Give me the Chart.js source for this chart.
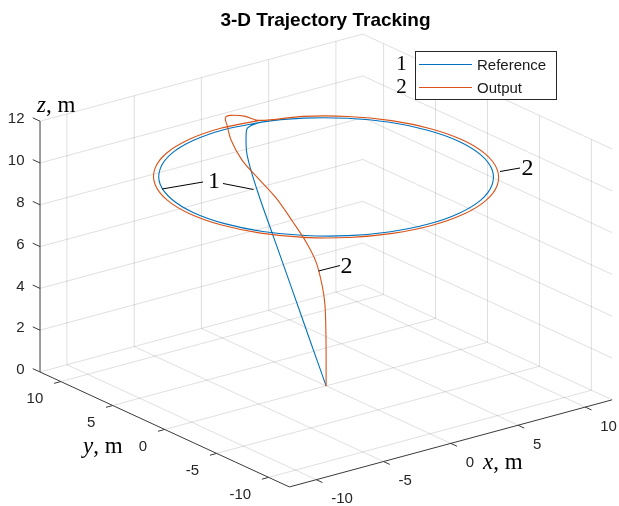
<!DOCTYPE html>
<html><head><meta charset="utf-8">
<script src="https://cdn.jsdelivr.net/npm/chart.js@4.4.1/dist/chart.umd.min.js"></script>
<style>html,body{margin:0;padding:0;background:#fff}#wrap{width:619px;height:506px}</style>
</head><body><div id="wrap"><canvas id="c" width="619" height="506"></canvas></div>
<script>
// ---------------- DATA (3-D points) ----------------
const seriesNames = ['Reference', 'Output'];
const refX = [0, 0, 0, 0, 0, 0, 0.7, 1.4,
  2.55, 4.93, 6.96, 8.53, 9.51, 9.85, 9.51, 8.53, 6.96, 4.93, 2.55, 0, -2.55, -4.93, -6.96, -8.53, -9.51, -9.85, -9.51, -8.53, -6.96, -4.93, -2.55, 0, 2.55];
const refY = [0, 1.7, 3.3, 5.0, 6.6, 7.6, 8.6, 9.3,
  9.51, 8.53, 6.96, 4.93, 2.55, 0, -2.55, -4.93, -6.96, -8.53, -9.51, -9.85, -9.51, -8.53, -6.96, -4.93, -2.55, 0, 2.55, 4.93, 6.96, 8.53, 9.51, 9.85, 9.51];
const refZ = [0, 2.0, 3.9, 5.9, 7.8, 9.3, 10, 10,
  10, 10, 10, 10, 10, 10, 10, 10, 10, 10, 10, 10, 10, 10, 10, 10, 10, 10, 10, 10, 10, 10, 10, 10, 10];

const outX = [0, 0, 0, 0, 0, 0, 0, 0, 0, 0, 0, 0, 0, 0.5, 1.6,
  2.63, 5.08, 7.18, 8.79, 9.80, 10.15, 9.80, 8.79, 7.18, 5.08, 2.63, 0, -2.63, -5.08, -7.18, -8.79, -9.80, -10.15, -9.80, -8.79, -7.18, -5.08, -2.63, 0, 2.63];
const outY = [0, 0.01, 0.11, 0.39, 0.97, 1.93, 3.19, 4.82, 6.56, 8.09, 9.15, 9.54, 9.7, 9.85, 9.95,
  9.80, 8.79, 7.18, 5.08, 2.63, 0, -2.63, -5.08, -7.18, -8.79, -9.80, -10.15, -9.80, -8.79, -7.18, -5.08, -2.63, 0, 2.63, 5.08, 7.18, 8.79, 9.80, 10.15, 9.80];
const outZ = [0, 2.19, 3.85, 4.74, 5.71, 6.44, 7.11, 7.89, 8.44, 8.95, 9.67, 10.3, 10.6, 10.6, 10.35,
  10, 10, 10, 10, 10, 10, 10, 10, 10, 10, 10, 10, 10, 10, 10, 10, 10, 10, 10, 10, 10, 10, 10, 10, 10];

const xTicks = [-10, -5, 0, 5, 10];
const yTicks = [-10, -5, 0, 5, 10];
const zTicks = [0, 2, 4, 6, 8, 10, 12];
const xLim = [-12, 12];
const yLim = [-12, 12];
const zLim = [0, 12];

// ---------------- VIEW (orthographic projection, az -37.5 / el 30 look) ----------------
const VIEW = { ox: 326.1, oy: 385.9, ex: [13.45, -3.63], ey: [-10.39, -4.79], ez: [0, -20.9] };
function proj(x, y, z) {
  return { x: VIEW.ox + x * VIEW.ex[0] + y * VIEW.ey[0] + z * VIEW.ez[0],
           y: VIEW.oy + x * VIEW.ex[1] + y * VIEW.ey[1] + z * VIEW.ez[1] };
}
const COLORS = ['#0072BD', '#D95319'];
const GRID = 'rgba(38,38,38,0.15)';
const AXIS = '#3a3a3a';

const datasets = [];
function seg(a, b, color, order, w) {
  datasets.push({ data: [proj(...a), proj(...b)], showLine: true, borderColor: color, borderWidth: w || 1,
    pointRadius: 0, tension: 0, order: order, label: '' });
}
// grid: floor
xTicks.forEach(x => seg([x, yLim[0], 0], [x, yLim[1], 0], GRID, 100));
yTicks.forEach(y => seg([xLim[0], y, 0], [xLim[1], y, 0], GRID, 100));
// back wall y = ymax
xTicks.forEach(x => seg([x, yLim[1], zLim[0]], [x, yLim[1], zLim[1]], GRID, 100));
zTicks.forEach(z => seg([xLim[0], yLim[1], z], [xLim[1], yLim[1], z], GRID, 100));
// back wall x = xmax
yTicks.forEach(y => seg([xLim[1], y, zLim[0]], [xLim[1], y, zLim[1]], GRID, 100));
zTicks.forEach(z => seg([xLim[1], yLim[0], z], [xLim[1], yLim[1], z], GRID, 100));
// axes
seg([xLim[0], yLim[0], 0], [xLim[1], yLim[0], 0], AXIS, 50);
seg([xLim[0], yLim[0], 0], [xLim[0], yLim[1], 0], AXIS, 50);
seg([xLim[0], yLim[1], zLim[0]], [xLim[0], yLim[1], zLim[1]], AXIS, 50);
// ticks
xTicks.forEach(x => seg([x, yLim[0], 0], [x, yLim[0] - 0.6, 0], AXIS, 50));
yTicks.forEach(y => seg([xLim[0], y, 0], [xLim[0] - 0.5, y, 0], AXIS, 50));
zTicks.forEach(z => seg([xLim[0], yLim[1], z], [xLim[0], yLim[1] + 0.7, z], AXIS, 50));

function track(X, Y, Z) { return X.map((v, i) => proj(v, Y[i], Z[i])); }
datasets.push({ label: seriesNames[0], data: track(refX, refY, refZ), showLine: true, borderColor: COLORS[0],
  borderWidth: 1.1, pointRadius: 0, tension: 0.34, order: 2 });
datasets.push({ label: seriesNames[1], data: track(outX, outY, outZ), showLine: true, borderColor: COLORS[1],
  borderWidth: 1.1, pointRadius: 0, tension: 0.34, order: 1 });

const SANS = '"Liberation Sans", Arial, sans-serif';
const SERIF = '"Liberation Serif", "Times New Roman", serif';

const overlay = {
  id: 'overlay',
  afterDraw(chart) {
    const c = chart.ctx, sx = chart.scales.x, sy = chart.scales.y;
    const P = (x, y, z) => { const p = proj(x, y, z); return [sx.getPixelForValue(p.x), sy.getPixelForValue(p.y)]; };
    const px = v => sx.getPixelForValue(v), py = v => sy.getPixelForValue(v);
    c.save();
    c.textBaseline = 'middle';
    // title
    c.fillStyle = '#000';
    c.font = 'bold 19px ' + SANS;
    c.textAlign = 'center';
    c.fillText('3-D Trajectory Tracking', px(325.5), py(21));
    // tick labels
    c.fillStyle = '#262626';
    c.font = '15px ' + SANS;
    c.textAlign = 'right';
    zTicks.forEach(z => { const [x, y] = P(xLim[0], yLim[1], z); c.fillText(String(z), x - 15.5, y - 2); });
    yTicks.forEach(t => { const [x, y] = P(xLim[0], t, 0); c.fillText(String(t), x - 17.5, y + 17); });
    c.textAlign = 'left';
    xTicks.forEach(t => { const [x, y] = P(t, yLim[0], 0); c.fillText(String(t), x + 15, y + 19.5); });
    // axis labels
    function axLabel(letter, lx, ly) {
      c.textAlign = 'left'; c.fillStyle = '#000';
      c.font = 'italic 23px ' + SERIF;
      c.fillText(letter, lx, ly);
      const w = c.measureText(letter).width;
      c.font = '23px ' + SERIF;
      c.fillText(', m', lx + w, ly);
    }
    axLabel('z', px(37), py(106));
    axLabel('y', px(83), py(447));
    axLabel('x', px(483), py(463));
    // legend
    const lx0 = px(414.5), ly0 = py(51), lx1 = px(555), ly1 = py(99);
    c.fillStyle = '#fff'; c.fillRect(lx0, ly0, lx1 - lx0, ly1 - ly0);
    c.strokeStyle = '#262626'; c.lineWidth = 1;
    c.strokeRect(Math.round(lx0) + 0.5, Math.round(ly0) + 0.5, Math.round(lx1 - lx0), Math.round(ly1 - ly0));
    const rows = [py(64.5), py(87.5)];
    chart.data.datasets.filter(d => d.label).forEach((d, i) => {
      c.strokeStyle = d.borderColor; c.lineWidth = 1.1;
      c.beginPath(); c.moveTo(px(419), rows[i]); c.lineTo(px(472), rows[i]); c.stroke();
      c.fillStyle = '#1a1a1a'; c.font = '15px ' + SANS; c.textAlign = 'left';
      c.fillText(d.label, px(477), rows[i] + 1);
      c.fillStyle = '#000'; c.font = '21px ' + SERIF; c.textAlign = 'center';
      c.fillText(String(i + 1), px(401.5), rows[i]);
    });
    // annotations
    c.strokeStyle = '#000'; c.lineWidth = 1;
    const lines = [[162, 189, 203, 182], [223, 183.5, 253.5, 189.5], [500, 171.5, 520, 168], [318.5, 271, 340, 265.5]];
    lines.forEach(l => { c.beginPath(); c.moveTo(px(l[0]), py(l[1])); c.lineTo(px(l[2]), py(l[3])); c.stroke(); });
    c.fillStyle = '#000'; c.font = '24px ' + SERIF; c.textAlign = 'center';
    c.fillText('1', px(214), py(182));
    c.fillText('2', px(527.5), py(169));
    c.fillText('2', px(346.5), py(267));
    c.restore();
  }
};

new Chart(document.getElementById('c'), {
  type: 'scatter',
  data: { datasets },
  options: {
    responsive: false, animation: false, devicePixelRatio: 1,
    layout: { padding: 0 },
    scales: {
      x: { type: 'linear', display: false, min: 0, max: 619 },
      y: { type: 'linear', display: false, min: 0, max: 506, reverse: true }
    },
    plugins: { legend: { display: false }, tooltip: { enabled: false }, title: { display: false } },
    elements: { point: { radius: 0 } }
  },
  plugins: [overlay]
});
</script></body></html>
